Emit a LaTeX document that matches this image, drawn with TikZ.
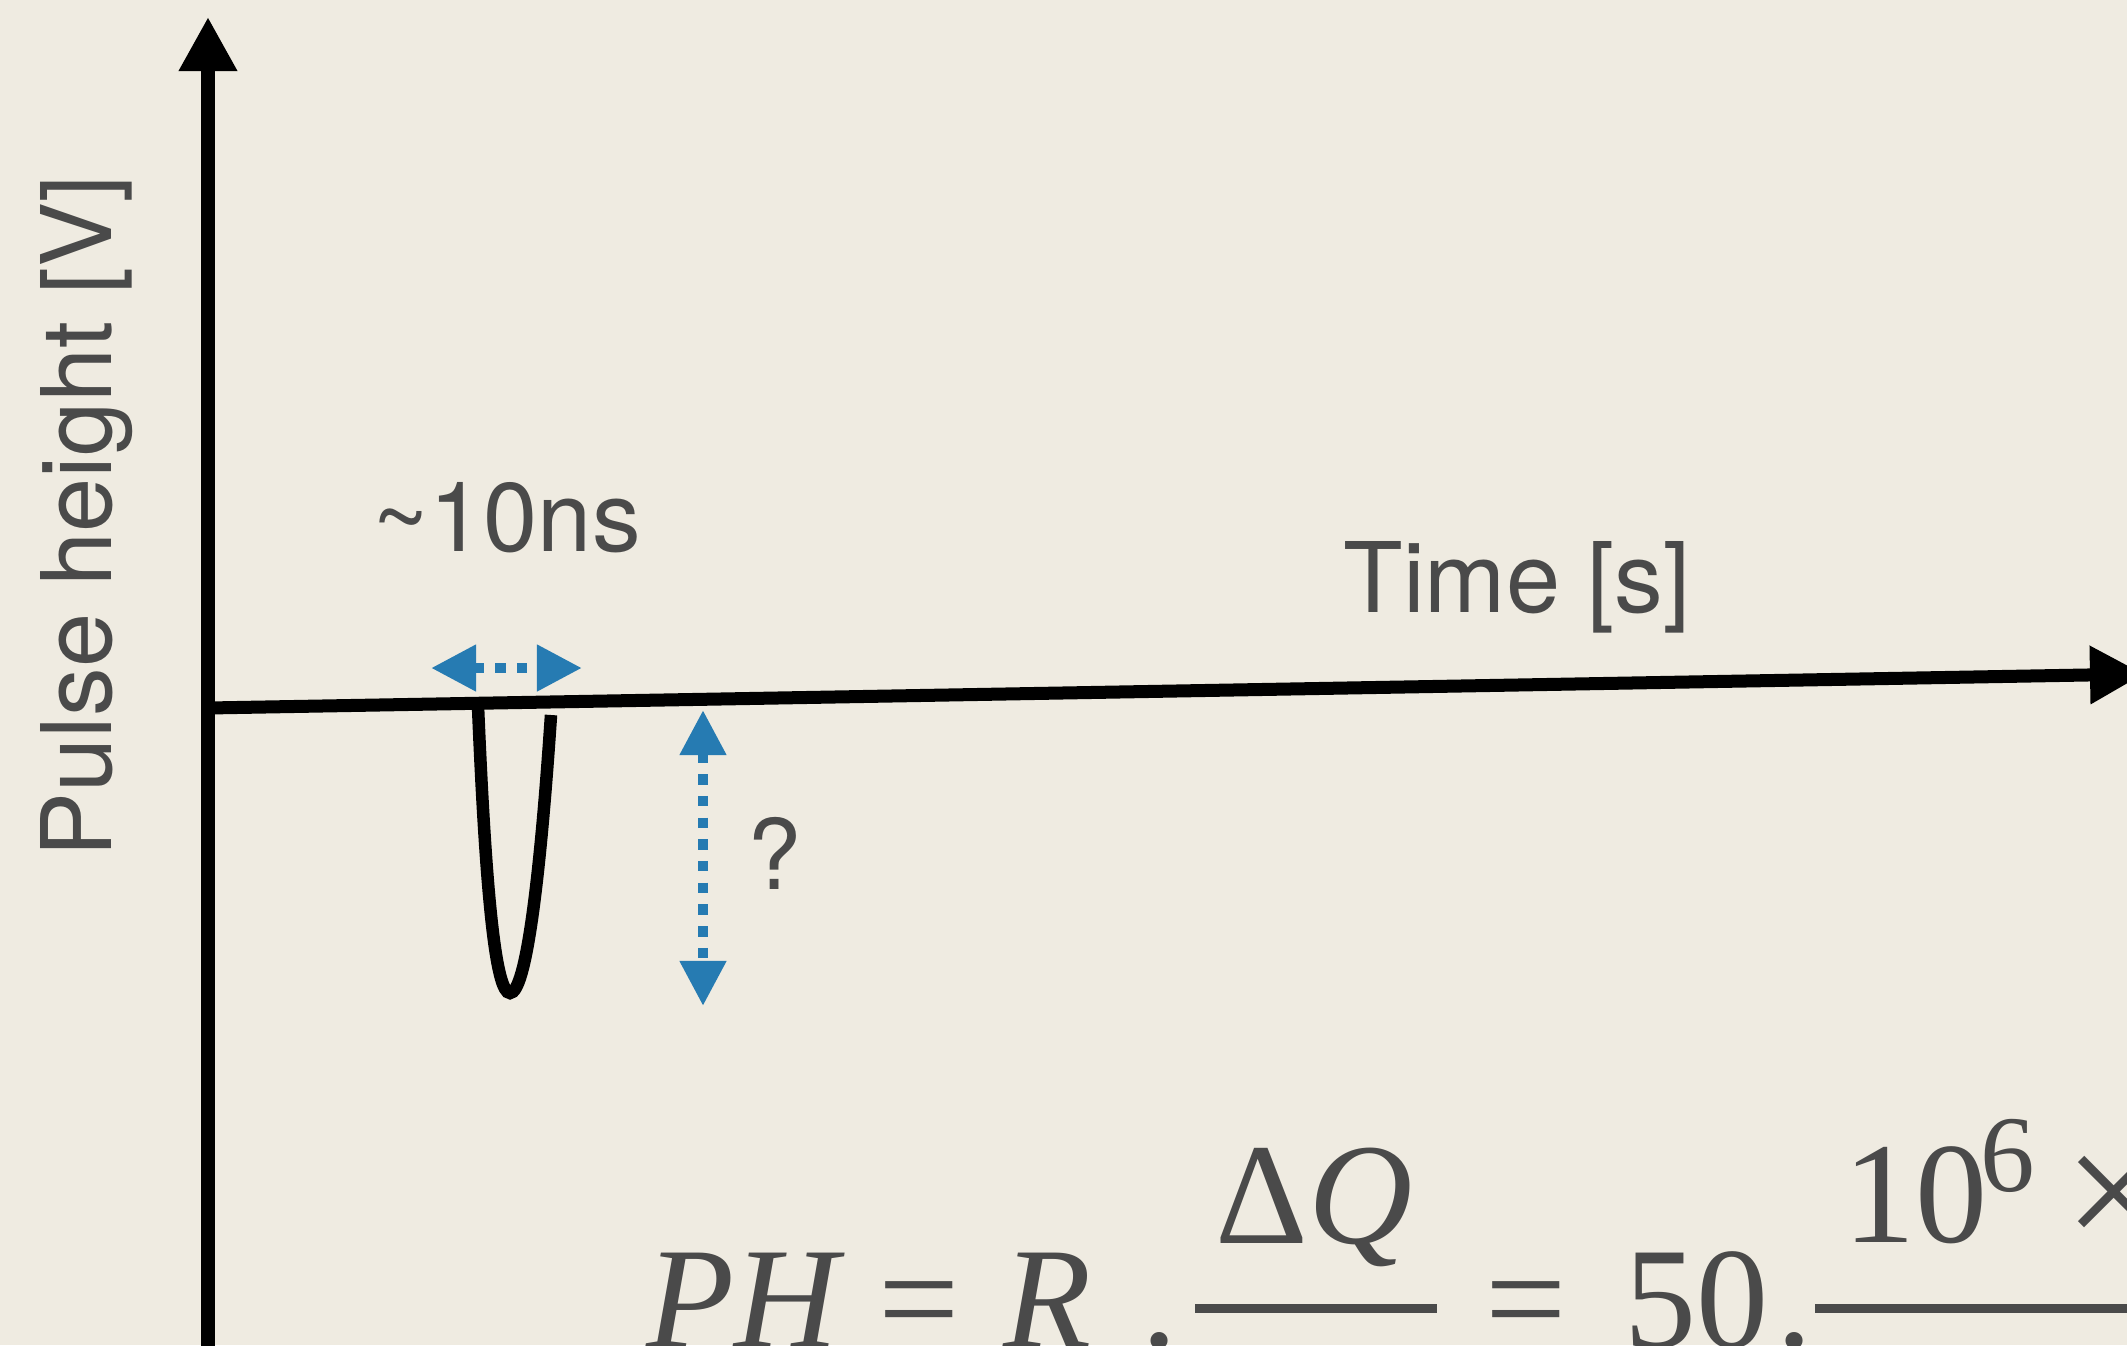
\documentclass[tikz,border=0pt]{standalone}
\usepackage{fontspec}
\setmainfont{TeX Gyre Heros}
\newfontfamily\formulafont{Liberation Serif}
\usetikzlibrary{arrows.meta}
\definecolor{paper}{RGB}{239,235,225}
\definecolor{ink}{RGB}{74,74,74}
\definecolor{markblue}{RGB}{38,123,178}
\tikzset{
  axisline/.style={line width=0.13cm, -{Triangle[length=0.54cm, width=0.55cm]}},
  pulseline/.style={line width=0.125cm},
  spanarrow/.style={markblue, line width=0.105cm, dash pattern=on 0.105cm off 0.112cm,
    {Triangle[length=0.45cm, width=0.44cm]}-{Triangle[length=0.45cm, width=0.44cm]}},
  axistext/.style={text=ink, inner sep=0pt, anchor=base west, font=\fontsize{27.7}{33}\selectfont},
  formula/.style={text=ink, inner sep=0pt, anchor=base west, font=\formulafont\fontsize{41}{49}\selectfont},
  fracbar/.style={ink, line width=0.09cm},
}
\begin{document}
\begin{tikzpicture}[x=0.01cm, y=-0.01cm]
\useasboundingbox (0,0) rectangle (2127,1345);
\fill[paper] (0,0) rectangle (2127,1345);
\clip (0,0) rectangle (2127,1345);
% axes
\coordinate (origin) at (208,708);
\coordinate (ytop) at (208,17);
\coordinate (ybot) at (208,1360);
\coordinate (xend) at (2144,674);
\draw[axisline] (ybot) -- (ytop);
\draw[axisline] (origin) -- (xend);
\node[axistext, rotate=90] (ylab) at (111,858) {Pulse height [V]};
\node[axistext] (xlab) at (1343,612) {Time [s]};
% pulse
\draw[pulseline] (478,706) .. controls (486,900) and (496,993) .. (510,993)
  .. controls (526,993) and (540,880) .. (551,715);
% width and height markers
\coordinate (wl) at (431,668);
\coordinate (wr) at (582,668);
\coordinate (ht) at (703,710);
\coordinate (hb) at (703,1006);
\draw[spanarrow] (wl) -- (wr);
\draw[spanarrow] (ht) -- (hb);
\node[axistext] (width) at (372,551) {\textasciitilde 10ns};
\node[axistext] (height) at (747,889) {?};
% formula
\node[formula] (ph) at (646,1347) {\itshape PH};
\node[formula] (eqa) at (878,1347) {=};
\node[formula] (r) at (1003,1347) {\itshape R};
\node[formula] (dota) at (1141,1347) {.};
\node[formula] (dq) at (1215,1243) {Δ\itshape Q};
\draw[fracbar] (1195,1308) -- (1437,1308);
\node[formula] (eqb) at (1485,1347) {=};
\node[formula] (fifty) at (1624,1347) {50};
\node[formula] (dotb) at (1776,1347) {.};
\draw[fracbar] (1815,1308) -- (2140,1308);
\node[formula] (ten) at (1843,1242) {10};
\node[formula, font=\formulafont\fontsize{31}{37}\selectfont] (six) at (1980,1191) {6};
\node[formula, font=\formulafont\fontsize{50}{60}\selectfont] (times) at (2064,1250) {×};
\end{tikzpicture}
\end{document}
